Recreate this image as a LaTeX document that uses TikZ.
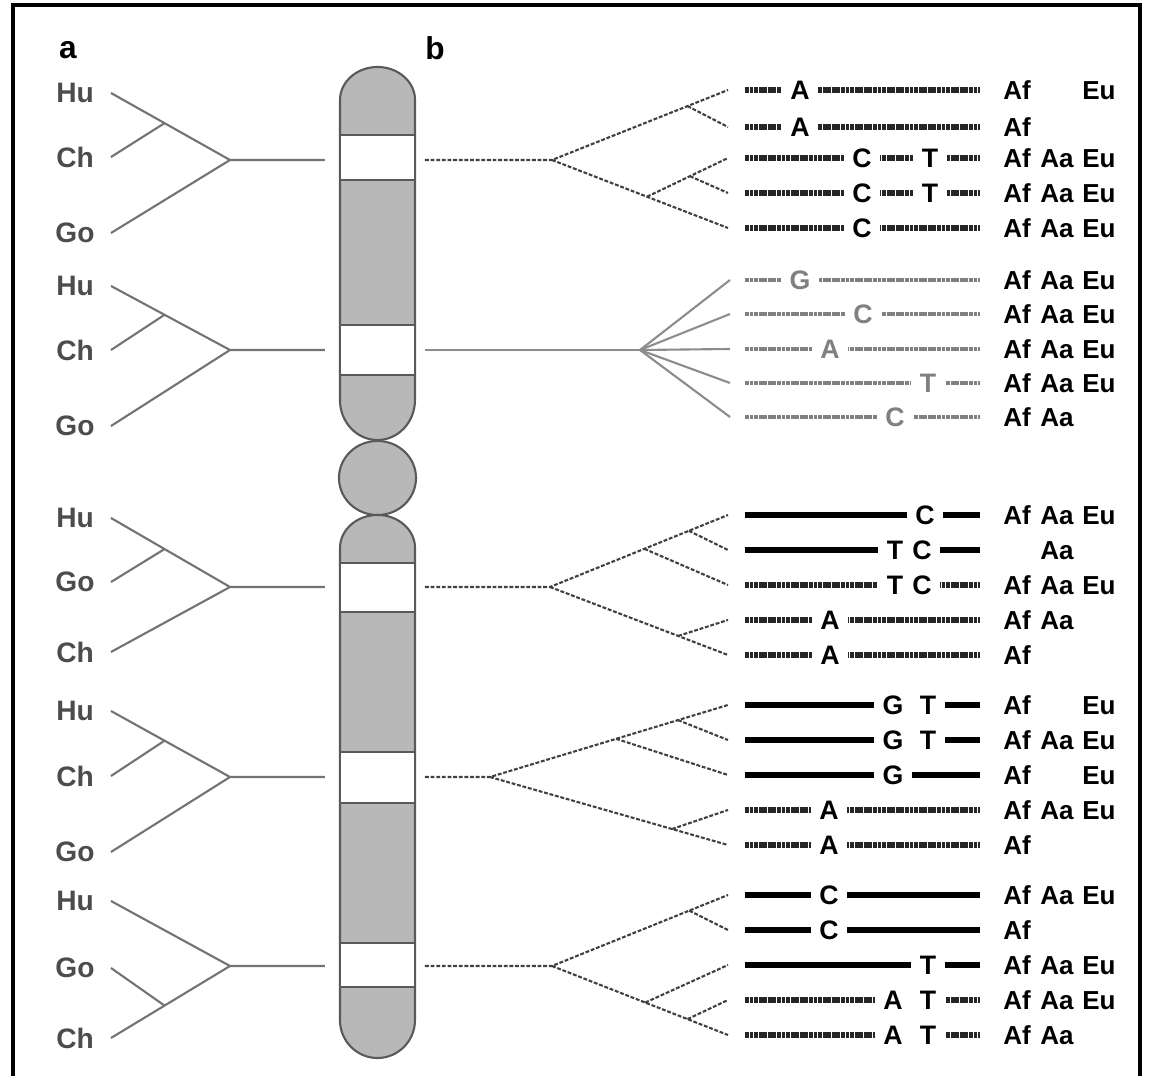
\documentclass[tikz,border=0pt]{standalone}
\usepackage{fontspec}
\setmainfont{Liberation Sans}
\usetikzlibrary{calc}
% one haplotype: y, bar style, SNP letters (x/letter), then Af, Aa, Eu
\newcommand\hap[6]{%
  \draw[#2] (745,#1) -- (980,#1);
  \foreach \px/\ch in {#3} \node[snp] (snp-\px-#1) at (\px,#1) {\ch};
  \node[pop] (af-#1) at (1017,#1) {#4};
  \node[pop] (aa-#1) at (1057,#1) {#5};
  \node[pop] (eu-#1) at (1099,#1) {#6};
}
\begin{document}
\begin{tikzpicture}[x=0.01cm,y=-0.01cm,
  ltree/.style={black!55,line width=0.6pt},
  rtree/.style={black!75,line width=0.6pt,dash pattern=on 1.1pt off 0.5pt},
  gtree/.style={black!45,line width=0.6pt},
  hbar/.style={black,line width=1.6pt},
  sbar/.style={black!85,line width=1.5pt,dash pattern=on 1.1pt off 0.2pt},
  gbar/.style={black!50,line width=1.4pt,dash pattern=on 1.1pt off 0.2pt},
  snp/.style={fill=white,inner xsep=2.4pt,inner ysep=0.8pt,text height=5.3pt,text depth=0pt,font=\fontsize{7.6}{8}\selectfont\bfseries},
  pop/.style={text=black,inner sep=0pt,text height=5.3pt,text depth=0pt,font=\fontsize{7.4}{8}\selectfont\bfseries},
  taxon/.style={text=black!70,inner sep=0pt,font=\fontsize{8}{9}\selectfont\bfseries},
  chromo/.style={fill=black!28,draw=black!65,line width=0.6pt},
  bandedge/.style={black!65,line width=0.6pt}]
\useasboundingbox (0,0) rectangle (1150,1076);
\draw[line width=0.9pt] (13,1076) -- (13,5) -- (1140,5) -- (1140,1076);
\node[font=\fontsize{9}{10}\selectfont\bfseries] (pa) at (68,50) {a};
\node[font=\fontsize{9}{10}\selectfont\bfseries] (pb) at (435,48) {b};

% chromosome
\path[chromo] (340,100) arc[start angle=180,end angle=0,x radius=0.375cm,y radius=0.33cm]
  -- (415,400) arc[start angle=0,end angle=-180,x radius=0.375cm,y radius=0.4cm] -- cycle;
\path[chromo] (377.5,478) ellipse[x radius=0.385cm,y radius=0.37cm];
\path[chromo] (340,548) arc[start angle=180,end angle=0,x radius=0.375cm,y radius=0.33cm]
  -- (415,1020) arc[start angle=0,end angle=-180,x radius=0.375cm,y radius=0.38cm] -- cycle;
\foreach \ya/\yb in {135/180,325/375,563/612,752/803,943/987}{
  \fill[white] (341,\ya) rectangle (414,\yb);
  \draw[bandedge] (340,\ya) -- (415,\ya) (340,\yb) -- (415,\yb);
}

% species trees
\foreach \i/\ya/\la/\yb/\lb/\yc/\lc/\yr in {1/93/Hu/157/Ch/233/Go/160,2/286/Hu/350/Ch/426/Go/350,
  3/518/Hu/582/Go/652/Ch/587,4/711/Hu/776/Ch/852/Go/777,5/1038/Ch/968/Go/901/Hu/966}{
  \node[taxon] (ta\i) at (75,\ya) {\la};
  \node[taxon] (tb\i) at (75,\yb) {\lb};
  \node[taxon] (tc\i) at (75,\yc) {\lc};
  \coordinate (pa\i) at (111,\ya);
  \coordinate (pb\i) at (111,\yb);
  \coordinate (pc\i) at (111,\yc);
  \coordinate (root\i) at (230,\yr);
  \coordinate (cl\i) at (325,\yr);
  \draw[ltree] (pa\i) -- (root\i) -- (pc\i) (root\i) -- (cl\i);
  \draw[ltree] (pb\i) -- ($(pa\i)!0.45!(root\i)$);
}

% haplotype trees
\foreach \g/\yr/\xr in {1/160/552,2/350/640,3/587/550,4/777/490,5/966/552}{
  \coordinate (cr\g) at (425,\yr);
  \coordinate (r\g) at (\xr,\yr);
}
\foreach \k/\y in {1/90,2/127,3/158,4/193,5/228} \coordinate (t1\k) at (728,\y);
\foreach \k/\y in {1/280,2/314,3/349,4/383,5/417} \coordinate (t2\k) at (730,\y);
\foreach \k/\y in {1/515,2/550,3/585,4/620,5/655} \coordinate (t3\k) at (728,\y);
\foreach \k/\y in {1/705,2/740,3/775,4/810,5/845} \coordinate (t4\k) at (728,\y);
\foreach \k/\y in {1/895,2/930,3/965,4/1000,5/1035} \coordinate (t5\k) at (728,\y);

\coordinate (n1a) at ($(r1)!0.77!(t11)$);
\coordinate (n1b) at ($(r1)!0.54!(t15)$);
\coordinate (n1c) at ($(n1b)!0.53!(t13)$);
\draw[rtree] (cr1) -- (r1) -- (t11) (r1) -- (t15);
\draw[rtree] (n1a) -- (t12) (n1b) -- (t13) (n1c) -- (t14);

\draw[gtree] (cr2) -- (r2);
\foreach \k in {1,...,5} \draw[gtree] (r2) -- (t2\k);

\coordinate (n3a) at ($(r3)!0.53!(t31)$);
\coordinate (n3b) at ($(r3)!0.78!(t31)$);
\coordinate (n3c) at ($(r3)!0.72!(t35)$);
\draw[rtree] (cr3) -- (r3) -- (t31) (r3) -- (t35);
\draw[rtree] (n3a) -- (t33) (n3b) -- (t32) (n3c) -- (t34);

\coordinate (n4a) at ($(r4)!0.53!(t41)$);
\coordinate (n4b) at ($(r4)!0.79!(t41)$);
\coordinate (n4c) at ($(r4)!0.765!(t45)$);
\draw[rtree] (cr4) -- (r4) -- (t41) (r4) -- (t45);
\draw[rtree] (n4a) -- (t43) (n4b) -- (t42) (n4c) -- (t44);

\coordinate (n5a) at ($(r5)!0.78!(t51)$);
\coordinate (n5b) at ($(r5)!0.53!(t55)$);
\coordinate (n5c) at ($(r5)!0.77!(t55)$);
\draw[rtree] (cr5) -- (r5) -- (t51) (r5) -- (t55);
\draw[rtree] (n5a) -- (t52) (n5b) -- (t53) (n5c) -- (t54);

% haplotypes
\hap{90}{sbar}{800/A}{Af}{}{Eu}
\hap{127}{sbar}{800/A}{Af}{}{}
\hap{158}{sbar}{862/C,930/T}{Af}{Aa}{Eu}
\hap{193}{sbar}{862/C,930/T}{Af}{Aa}{Eu}
\hap{228}{sbar}{862/C}{Af}{Aa}{Eu}

\begin{scope}[every node/.append style={text=black!50}]
\hap{280}{gbar}{800/G}{Af}{Aa}{Eu}
\hap{314}{gbar}{863/C}{Af}{Aa}{Eu}
\hap{349}{gbar}{830/A}{Af}{Aa}{Eu}
\hap{383}{gbar}{928/T}{Af}{Aa}{Eu}
\hap{417}{gbar}{895/C}{Af}{Aa}{}
\end{scope}

\hap{515}{hbar}{925/C}{Af}{Aa}{Eu}
\hap{550}{hbar}{895/T,922/C}{}{Aa}{}
\hap{585}{sbar}{895/T,922/C}{Af}{Aa}{Eu}
\hap{620}{sbar}{830/A}{Af}{Aa}{}
\hap{655}{sbar}{830/A}{Af}{}{}

\hap{705}{hbar}{893/G,928/T}{Af}{}{Eu}
\hap{740}{hbar}{893/G,928/T}{Af}{Aa}{Eu}
\hap{775}{hbar}{893/G}{Af}{}{Eu}
\hap{810}{sbar}{829/A}{Af}{Aa}{Eu}
\hap{845}{sbar}{829/A}{Af}{}{}

\hap{895}{hbar}{829/C}{Af}{Aa}{Eu}
\hap{930}{hbar}{829/C}{Af}{}{}
\hap{965}{hbar}{928/T}{Af}{Aa}{Eu}
\hap{1000}{sbar}{893/A,928/T}{Af}{Aa}{Eu}
\hap{1035}{sbar}{893/A,928/T}{Af}{Aa}{}
\end{tikzpicture}
\end{document}
